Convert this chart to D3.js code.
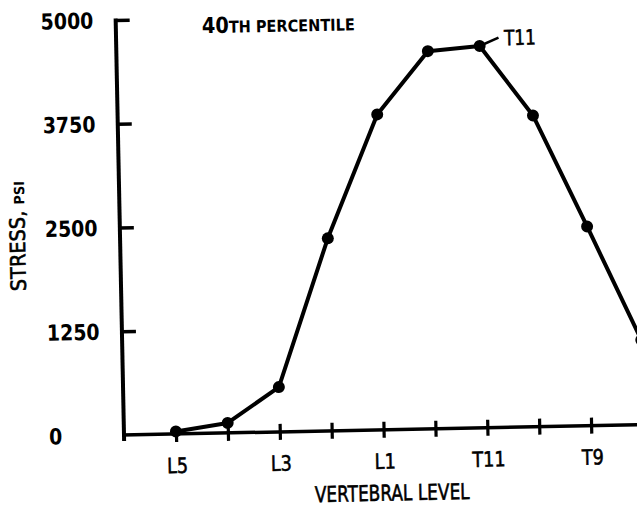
<!DOCTYPE html>
<html>
<head>
<meta charset="utf-8">
<script src="https://cdn.jsdelivr.net/npm/d3@7"></script>
<style>
  html, body { margin: 0; padding: 0; background: #fff; }
  svg { display: block; }
  .lbl { font-family: 'DejaVu Sans', sans-serif; fill: #000; }
  .ink { stroke: #000; stroke-width: 0.6px; }
</style>
</head>
<body>
<script>
// Vertebral levels along the spine, lumbar to thoracic
const levels = ["L5", "L4", "L3", "L2", "L1", "T12", "T11", "T10", "T9", "T8"];
// Stress at each level, psi
const stress = [30, 120, 540, 2320, 3800, 4550, 4600, 3750, 2400, 1020];
// Y-axis tick values and the levels that get a printed label
const yTicks = [0, 1250, 2500, 3750, 5000];
const labelledLevels = ["L5", "L3", "L1", "T11", "T9"];

const W = 637, H = 509;
const origin = { x: 124, y: 435 };

const svg = d3.select("body").append("svg")
  .attr("width", W).attr("height", H);

// The whole plate sits a touch off-square on the page
const plate = svg.append("g")
  .attr("transform", `rotate(-1.15, ${origin.x}, ${origin.y})`);

// Lettering is tall and narrow: squeeze each label horizontally around its anchor
function label(parent, px, py, sx, extra) {
  const g = parent.append("g").attr("transform", `translate(${px},${py}) ${extra || ""} scale(${sx},1)`);
  return g.append("text").attr("class", "lbl");
}

const x = d3.scaleLinear().domain([0, levels.length - 1]).range([176, 176 + 51.9 * 9]);
const xOf = name => x(levels.indexOf(name));
const y = d3.scaleLinear().domain([0, 5000]).range([origin.y, 20]);

// Y axis: spine with ticks pointing into the plot
const yAxis = d3.axisRight(y)
  .tickValues(yTicks.filter(v => v > 0))
  .tickSize(14)
  .tickFormat("");
const gy = plate.append("g").attr("transform", `translate(${origin.x},0)`).call(yAxis);
gy.select(".domain").remove();
gy.selectAll(".tick line").attr("stroke", "#000").attr("stroke-width", 3.5);
plate.append("line")
  .attr("x1", origin.x).attr("x2", origin.x)
  .attr("y1", y(5000) - 1.5).attr("y2", origin.y + 6)
  .attr("stroke", "#000").attr("stroke-width", 4);

// Y tick labels, left aligned
yTicks.forEach(v => {
  label(plate, 49, y(v), 0.86)
    .attr("dy", "0.36em")
    .attr("font-size", 22)
    .attr("font-weight", "bold")
    .text(v);
});

// X axis: baseline with short cross ticks at every level
plate.append("line")
  .attr("x1", origin.x - 2).attr("x2", 700)
  .attr("y1", origin.y).attr("y2", origin.y)
  .attr("stroke", "#000").attr("stroke-width", 3.5);
const xAxis = d3.axisBottom(x).tickValues(d3.range(levels.length)).tickSize(8).tickFormat("");
const gx = plate.append("g").attr("transform", `translate(0,${origin.y})`).call(xAxis);
gx.select(".domain").remove();
gx.selectAll(".tick line").attr("stroke", "#000").attr("stroke-width", 3.2).attr("y1", -8);

labelledLevels.forEach(l => {
  label(plate, xOf(l) + 1, origin.y + 39, 0.84)
    .classed("ink", true)
    .attr("text-anchor", "middle")
    .attr("font-size", 21)
    .text(l);
});

// Axis titles
label(plate, 391, 506, 0.77)
  .classed("ink", true)
  .attr("text-anchor", "middle")
  .attr("font-size", 22)
  .text("VERTEBRAL LEVEL");

const yt = label(plate, 29, 234, 0.92, "rotate(-90)")
  .attr("text-anchor", "middle");
yt.append("tspan").attr("class", "ink").attr("font-size", 21).text("STRESS, ");
yt.append("tspan").attr("font-size", 14).attr("font-weight", "bold").text("PSI");

// Panel title
const tt = label(plate, 210, 35, 0.88).attr("font-weight", "bold");
tt.append("tspan").attr("font-size", 22).text("40");
tt.append("tspan").attr("font-size", 16.5).text("TH PERCENTILE");

// Stress curve
const pts = levels.map((l, i) => ({ level: l, value: stress[i] }));
const line = d3.line().x((d, i) => x(i)).y(d => y(d.value));
plate.append("path")
  .datum(pts)
  .attr("d", line)
  .attr("fill", "none")
  .attr("stroke", "#000")
  .attr("stroke-width", 4)
  .attr("stroke-linejoin", "round");
plate.selectAll(".pt").data(pts).join("circle")
  .attr("cx", (d, i) => x(i))
  .attr("cy", d => y(d.value))
  .attr("r", 6)
  .attr("fill", "#000");

// Call-out for the peak level
const peak = pts[levels.indexOf("T11")];
const px = xOf("T11"), py = y(peak.value);
plate.append("line")
  .attr("x1", px).attr("y1", py)
  .attr("x2", px + 19).attr("y2", py - 8)
  .attr("stroke", "#000").attr("stroke-width", 2.5);
label(plate, 512, 53, 0.8)
  .classed("ink", true)
  .attr("font-size", 21)
  .text("T11");
</script>
</body>
</html>
